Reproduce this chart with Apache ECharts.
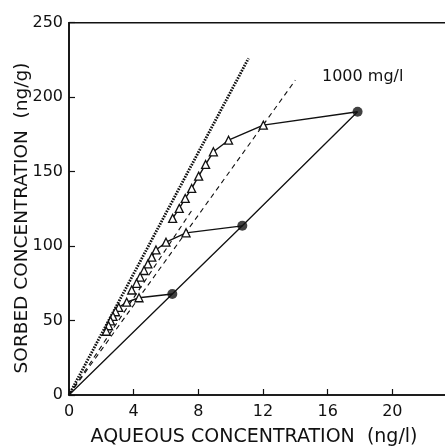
<!DOCTYPE html>
<html>
<head>
<meta charset="utf-8">
<script src="https://cdn.jsdelivr.net/npm/echarts@6/dist/echarts.min.js"></script>
<style>
  html, body { margin: 0; padding: 0; background: #fff; }
  #chart { width: 445px; height: 448px; }
</style>
</head>
<body>
<div id="chart"></div>
<script>
// Axis ranges and tick spacing
const xRange = [0, 24];
const xStep = 4;
const yRange = [0, 250];
const yStep = 50;

// Adsorption points (filled circles), aqueous ng/l vs sorbed ng/g
const adsX = [6.39, 10.72, 17.85];
const adsY = [67.8, 113.6, 190.2];

// Desorption branches (triangles), each starting from one adsorption point
const desLowX = [4.33, 3.57, 3.08, 2.88, 2.72, 2.57, 2.45, 2.31];
const desLowY = [65.3, 62.3, 58.8, 55.9, 52.8, 49.8, 46.5, 42.8];

const desMidX = [7.24, 6.00, 5.38, 5.12, 4.88, 4.64, 4.40, 4.18, 3.88];
const desMidY = [108.9, 102.6, 97.4, 92.6, 88.0, 83.6, 79.2, 75.0, 70.5];

const desUpX = [12.02, 9.87, 8.93, 8.45, 8.02, 7.59, 7.19, 6.82, 6.41];
const desUpY = [181.2, 171.1, 163.3, 154.8, 147.0, 138.7, 132.0, 125.3, 118.6];

// Reference lines through the origin
const limitX = [0, 11.1];
const limitY = [0, 226];
const fitAX = [0, 14.0];
const fitAY = [0, 211.4];
const fitBX = [0, 7.6];
const fitBY = [0, 124];

const annotation = '1000 mg/l';
const xTitle = 'AQUEOUS CONCENTRATION  (ng/l)';
const yTitle = 'SORBED CONCENTRATION  (ng/g)';

const pairs = (xs, ys) => xs.map((x, i) => [x, ys[i]]);

// Desorption branch: starts at the adsorption point (no marker), then triangles
function branch(i, xs, ys) {
  return [{ value: [adsX[i], adsY[i]], symbol: 'none' }].concat(pairs(xs, ys));
}

const ink = '#111';
const font = 'DejaVu Sans';

const chart = echarts.init(document.getElementById('chart'), null, { renderer: 'canvas' });

const refLine = (xs, ys, type, width) => ({
  type: 'line',
  data: pairs(xs, ys),
  symbol: 'none',
  silent: true,
  lineStyle: { color: ink, width: width, type: type },
  z: 2
});

const desSeries = (data) => ({
  type: 'line',
  data: data,
  symbol: 'triangle',
  symbolSize: 8,
  itemStyle: { color: '#fff', borderColor: ink, borderWidth: 1.3 },
  lineStyle: { color: ink, width: 1.4 },
  z: 4
});

chart.setOption({
  animation: false,
  backgroundColor: '#fff',
  grid: {
    left: 69, right: -12, top: 22.7, bottom: 53,
    outerBoundsMode: 'none',
    containLabel: false,
    show: true, borderColor: ink, borderWidth: 1.6, backgroundColor: 'transparent'
  },
  xAxis: {
    type: 'value', min: xRange[0], max: xRange[1], interval: xStep,
    axisLine: { show: true, onZero: false, lineStyle: { color: ink, width: 1.6 } },
    axisTick: { show: true, inside: true, length: 6, lineStyle: { color: ink, width: 1.2 } },
    axisLabel: { color: ink, fontFamily: font, fontSize: 16, margin: 9, showMaxLabel: false },
    splitLine: { show: false }
  },
  yAxis: {
    type: 'value', min: yRange[0], max: yRange[1], interval: yStep,
    axisLine: { show: true, onZero: false, lineStyle: { color: ink, width: 1.6 } },
    axisTick: { show: true, inside: true, length: 6, lineStyle: { color: ink, width: 1.2 } },
    axisLabel: { color: ink, fontFamily: font, fontSize: 16, margin: 6 },
    splitLine: { show: false }
  },
  graphic: [
    {
      type: 'text', x: 254, y: 437,
      style: { text: xTitle, fill: ink, font: '19px "DejaVu Sans"', align: 'center', verticalAlign: 'middle' }
    },
    {
      type: 'text', x: 22, y: 218, rotation: Math.PI / 2,
      style: { text: yTitle, fill: ink, font: '18.5px "DejaVu Sans"', align: 'center', verticalAlign: 'middle' }
    },
    {
      type: 'text', x: 322, y: 77,
      style: { text: annotation, fill: ink, font: '16px "DejaVu Sans"', align: 'left', verticalAlign: 'middle' }
    }
  ],
  series: [
    refLine(limitX, limitY, [1.6, 1.2], 2.8),
    refLine(fitAX, fitAY, [5, 4], 1.1),
    refLine(fitBX, fitBY, [5, 4], 1.1),
    // Adsorption isotherm through the origin and the filled points
    {
      type: 'line',
      data: [[0, 0]].concat(pairs(adsX, adsY)),
      symbol: 'none',
      lineStyle: { color: ink, width: 1.3 },
      z: 3
    },
    desSeries(branch(0, desLowX, desLowY)),
    desSeries(branch(1, desMidX, desMidY)),
    desSeries(branch(2, desUpX, desUpY)),
    {
      type: 'scatter',
      data: pairs(adsX, adsY),
      symbol: 'circle',
      symbolSize: 10,
      itemStyle: { color: ink },
      z: 6
    }
  ]
});
</script>
</body>
</html>
